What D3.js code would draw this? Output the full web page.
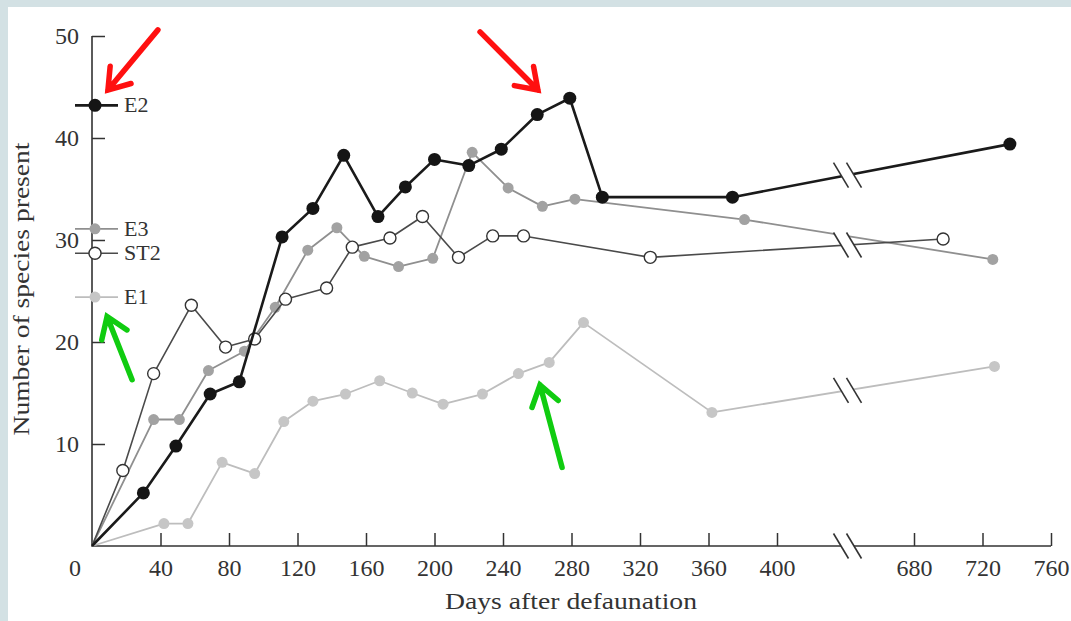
<!DOCTYPE html>
<html>
<meta charset="utf-8">
<head>
<style>
body { margin: 0; background: #fff; }
text { font-family: "Liberation Serif", "Times New Roman", serif; fill: #333; }
</style>
</head>
<body>
<svg width="1071" height="621"></svg>

<script src="https://cdn.jsdelivr.net/npm/d3@7"></script>

<script>

// data (days after defaunation, number of species)
var e2Days  = [0, 30, 49, 69, 86, 111, 129, 147, 167, 183, 200, 220, 239, 260, 279, 298, 374, 736];
var e2Vals  = [0, 5.2, 9.8, 14.9, 16.1, 30.3, 33.1, 38.3, 32.3, 35.2, 37.9, 37.3, 38.9, 42.3, 43.9, 34.2, 34.2, 39.4];

var e3Days  = [0, 36, 51, 68, 89, 107, 126, 143, 159, 179, 199, 222, 243, 263, 282, 381, 726];
var e3Vals  = [0, 12.4, 12.4, 17.2, 19.1, 23.4, 29.0, 31.2, 28.4, 27.4, 28.2, 38.6, 35.1, 33.3, 34.0, 32.0, 28.1];

var st2Days = [0, 18, 36, 58, 78, 95, 113, 137, 152, 174, 193, 214, 234, 252, 326, 697];
var st2Vals = [0, 7.4, 16.9, 23.6, 19.5, 20.3, 24.2, 25.3, 29.3, 30.2, 32.3, 28.3, 30.4, 30.4, 28.3, 30.1];

var e1Days  = [0, 42, 56, 76, 95, 112, 129, 148, 168, 187, 205, 228, 249, 267, 287, 362, 727];
var e1Vals  = [0, 2.2, 2.2, 8.2, 7.1, 12.2, 14.2, 14.9, 16.2, 15.0, 13.9, 14.9, 16.9, 18.0, 21.9, 13.1, 17.6];

var xTicks = [40, 80, 120, 160, 200, 240, 280, 320, 360, 400, 680, 720, 760];
var yTicks = [10, 20, 30, 40, 50];

// legend entries, in the order they sit by the y axis (value = row position)
var legendNames = ["E2", "E3", "ST2", "E1"];
var legendRows  = [43.2, 31.1, 28.7, 24.4];

// arrows added on top of the figure, tail/tip in data units
var arrowTails = [[38.5, 50.6], [226.6, 50.4], [23.4, 16.3], [274.5, 7.7]];
var arrowTips  = [[9.3, 44.7], [260.4, 44.7], [8.8, 22.5], [261.6, 15.8]];
var arrowColors = ["#ff1010", "#ff1010", "#10cc10", "#10cc10"];

var svg = d3.select("svg"),
    width = +svg.attr("width"),
    height = +svg.attr("height");

// page + bluish scan border
svg.append("rect").attr("width", width).attr("height", height).attr("fill", "#d3e1e4");
svg.append("rect").attr("x", 8).attr("y", 7).attr("width", width - 8).attr("height", height - 7).attr("fill", "#fff");

// broken x axis: 400 -> 680 is squeezed into two tick steps
var x = d3.scaleLinear().domain([0, 400, 680, 760]).range([92, 777, 914, 1051]);
var y = d3.scaleLinear().domain([0, 50]).range([546, 36]);
var breakX = (x(400) + x(680)) / 2 + 2;

var series = [
  {name: "E1",  days: e1Days,  vals: e1Vals,  line: "#bdbdbd", lw: 1.8, fill: "#c6c6c6", ms: "none", r: 5.5},
  {name: "E3",  days: e3Days,  vals: e3Vals,  line: "#8f8f8f", lw: 1.8, fill: "#a2a2a2", ms: "none", r: 5.5},
  {name: "ST2", days: st2Days, vals: st2Vals, line: "#4a4a4a", lw: 1.6, fill: "#fff",    ms: "#333", r: 6},
  {name: "E2",  days: e2Days,  vals: e2Vals,  line: "#1a1a1a", lw: 2.6, fill: "#151515", ms: "none", r: 6.5}
];
var byName = {};
series.forEach(function(s) {
  s.pts = s.days.map(function(d, i) { return [d, s.vals[i]]; });
  byName[s.name] = s;
});

// axes (ticks point inward)
var xAxis = d3.axisBottom(x).tickValues(xTicks).tickSizeInner(-13).tickSizeOuter(0).tickPadding(13);
var yAxis = d3.axisLeft(y).tickValues(yTicks).tickSizeInner(-13).tickSizeOuter(0).tickPadding(13);

var gx = svg.append("g").attr("transform", "translate(0," + y(0) + ")").call(xAxis);
var gy = svg.append("g").attr("transform", "translate(" + x(0) + ",0)").call(yAxis);
[gx, gy].forEach(function(g) {
  g.select(".domain").remove();
  g.selectAll(".tick line").attr("stroke", "#333").attr("stroke-width", 1.5);
  g.selectAll(".tick text").attr("font-size", 24).attr("fill", "#333")
    .style("font-family", "'Liberation Serif', serif");
});
gx.selectAll(".tick text").attr("dy", "0.71em");

// axis lines, with a gap at the break
svg.append("path")
    .attr("d", d3.line()([[x(0), y(50)], [x(0), y(0)], [breakX - 4, y(0)]]))
    .attr("fill", "none").attr("stroke", "#333").attr("stroke-width", 1.6);
svg.append("path")
    .attr("d", d3.line()([[breakX + 5, y(0)], [x(760), y(0)]]))
    .attr("fill", "none").attr("stroke", "#333").attr("stroke-width", 1.6);

svg.append("text").attr("x", 75).attr("y", y(0) + 30).attr("font-size", 24).attr("text-anchor", "middle").text("0");

svg.append("text")
    .attr("x", 571).attr("y", 609)
    .attr("text-anchor", "middle").attr("font-size", 23)
    .attr("textLength", 252).attr("lengthAdjust", "spacingAndGlyphs")
    .text("Days after defaunation");

svg.append("text")
    .attr("transform", "translate(29,289) rotate(-90)")
    .attr("text-anchor", "middle").attr("font-size", 23)
    .attr("textLength", 293).attr("lengthAdjust", "spacingAndGlyphs")
    .text("Number of species present");

// series lines and markers
var line = d3.line().x(function(d) { return x(d[0]); }).y(function(d) { return y(d[1]); });

series.forEach(function(s) {
  svg.append("path")
      .datum(s.pts)
      .attr("d", line)
      .attr("fill", "none")
      .attr("stroke", s.line)
      .attr("stroke-width", s.lw)
      .attr("stroke-linejoin", "round");
  svg.append("g").selectAll("circle")
      .data(s.pts.slice(1))
      .enter().append("circle")
      .attr("cx", function(d) { return x(d[0]); })
      .attr("cy", function(d) { return y(d[1]); })
      .attr("r", s.r)
      .attr("fill", s.fill)
      .attr("stroke", s.ms)
      .attr("stroke-width", 1.4);
});

// "//" break marks on each line and on the axis
function yAtBreak(s) {
  var p = s.pts;
  for (var i = 1; i < p.length; i++) {
    var x0 = x(p[i-1][0]), x1 = x(p[i][0]);
    if (x0 <= breakX && x1 >= breakX) {
      var t = (breakX - x0) / (x1 - x0);
      return y(p[i-1][1]) + t * (y(p[i][1]) - y(p[i-1][1]));
    }
  }
  return null;
}
var breakYs = [y(0)];
series.forEach(function(s) {
  var by = yAtBreak(s);
  // lines crossing close together share one mark (the later one wins)
  var j = breakYs.findIndex(function(v) { return Math.abs(v - by) < 12; });
  if (j < 0) breakYs.push(by);
  else if (j > 0) breakYs[j] = by;
});

var marks = svg.append("g");
breakYs.forEach(function(by) {
  var dx = 7.5, dy = 12.5, off = 6.5;
  marks.append("path")
      .attr("d", d3.line()([[breakX - off - dx, by - dy], [breakX + off - dx, by - dy],
                            [breakX + off + dx, by + dy], [breakX - off + dx, by + dy]]) + "Z")
      .attr("fill", "#fff");
  [-off, off].forEach(function(o) {
    marks.append("line")
        .attr("x1", breakX + o - dx).attr("y1", by - dy)
        .attr("x2", breakX + o + dx).attr("y2", by + dy)
        .attr("stroke", "#333").attr("stroke-width", 1.6);
  });
});

// legend beside the y axis
var legend = svg.append("g");
legendNames.forEach(function(name, i) {
  var s = byName[name], ly = y(legendRows[i]);
  legend.append("line")
      .attr("x1", 75).attr("x2", 118).attr("y1", ly).attr("y2", ly)
      .attr("stroke", s.line).attr("stroke-width", s.lw);
  legend.append("circle")
      .attr("cx", 95).attr("cy", ly).attr("r", s.r)
      .attr("fill", s.fill).attr("stroke", s.ms).attr("stroke-width", 1.4);
  legend.append("text")
      .attr("x", 124).attr("y", ly + 7)
      .attr("font-size", 22)
      .text(name);
});

// red / green arrows
var arrows = svg.append("g");
arrowTails.forEach(function(t, i) {
  var x0 = x(t[0]), y0 = y(t[1]), x1 = x(arrowTips[i][0]), y1 = y(arrowTips[i][1]);
  var ang = Math.atan2(y1 - y0, x1 - x0), len = 24, spread = 0.6;
  var w1 = [x1 - len * Math.cos(ang - spread), y1 - len * Math.sin(ang - spread)];
  var w2 = [x1 - len * Math.cos(ang + spread), y1 - len * Math.sin(ang + spread)];
  arrows.append("path")
      .attr("d", d3.line()([[x0, y0], [x1, y1]]) + d3.line()([w1, [x1, y1], w2]))
      .attr("fill", "none")
      .attr("stroke", arrowColors[i])
      .attr("stroke-width", 5.5)
      .attr("stroke-linecap", "round")
      .attr("stroke-linejoin", "miter");
});

</script>
</body>
</html>
